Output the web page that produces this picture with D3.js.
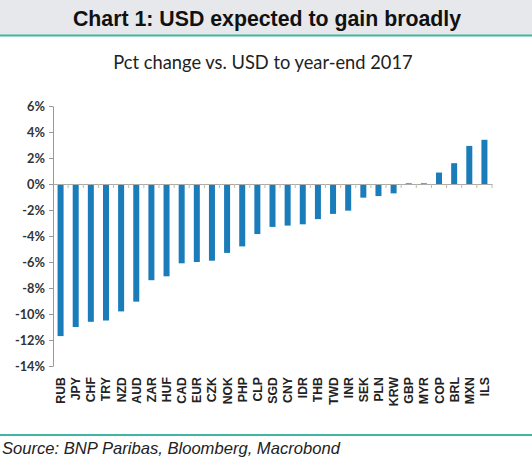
<!DOCTYPE html>
<html><head><meta charset="utf-8">
<script src="https://cdn.jsdelivr.net/npm/d3@7"></script>
<style>html,body{margin:0;padding:0;background:#fff;}svg{display:block;}</style>
</head><body>
<svg id="c" width="532" height="463"></svg>
<script>
const categories = ["RUB","JPY","CHF","TRY","NZD","AUD","ZAR","HUF","CAD","EUR","CZK","NOK","PHP","CLP","SGD","CNY","IDR","THB","TWD","INR","SEK","PLN","KRW","GBP","MYR","COP","BRL","MXN","ILS"];
const values = [-11.7,-11.0,-10.6,-10.5,-9.8,-9.05,-7.4,-7.1,-6.1,-6.0,-5.9,-5.3,-4.8,-3.85,-3.3,-3.2,-3.1,-2.7,-2.3,-2.05,-1.05,-0.93,-0.72,0.08,0.08,0.88,1.6,2.93,3.4];
const yTicks = [6,4,2,0,-2,-4,-6,-8,-10,-12,-14];
const titleText = "Chart 1: USD expected to gain broadly";
const subtitleText = "Pct change vs. USD to year-end 2017";
const sourceText = "Source: BNP Paribas, Bloomberg, Macrobond";

const svg = d3.select("#c");
// title band
svg.append("rect").attr("x",0).attr("y",0).attr("width",532).attr("height",35).attr("fill","#e7e8eb");
svg.append("rect").attr("x",0).attr("y",34.5).attr("width",532).attr("height",2).attr("fill","#3fb5a3");
svg.append("text").attr("x",267).attr("y",26).attr("text-anchor","middle")
  .attr("font-family","Liberation Sans, Arial, sans-serif").attr("font-weight","bold").attr("font-size",21.3)
  .attr("fill","#111").text(titleText);
svg.append("text").attr("x",263).attr("y",69).attr("text-anchor","middle")
  .attr("font-family","Lato, sans-serif").attr("font-size",18.3).attr("fill","#222").text(subtitleText);

const x = d3.scaleBand().domain(categories).range([53,492]).paddingInner(0.6).paddingOuter(0.3);
const xb = d3.scaleBand().domain(categories).range([53,492]);
const y = d3.scaleLinear().domain([-14,6]).range([366,106]);

// y axis
const ya = svg.append("g").attr("transform","translate(53,0)")
  .call(d3.axisLeft(y).tickValues(yTicks).tickSize(4).tickSizeOuter(0).tickFormat(d=>d+"%"));
ya.select(".domain").attr("stroke","#999");
ya.selectAll(".tick line").attr("stroke","#999");
ya.selectAll(".tick text").attr("font-family","Lato, sans-serif").attr("font-weight","bold")
  .attr("font-size",12.8).attr("fill","#333").attr("x",-8);

// bars
svg.append("g").selectAll("rect").data(values).join("rect")
  .attr("x",(d,i)=>x(categories[i])+ (x.bandwidth()-6)/2)
  .attr("width",6)
  .attr("y",d=>y(Math.max(0,d)))
  .attr("height",d=>Math.max(1,Math.abs(y(d)-y(0))))
  .attr("fill",(d)=>Math.abs(d)<0.2?"#8a9aa8":"#1a7cb8");

// zero axis with ticks at band boundaries
const xa = svg.append("g").attr("transform",`translate(0,${y(0)})`)
  .call(d3.axisBottom(xb).tickSize(0).tickFormat(""));
xa.select(".domain").attr("stroke","#aaa");
svg.append("g").selectAll("line").data(categories).join("line")
  .attr("x1",d=>xb(d)+xb.bandwidth()).attr("x2",d=>xb(d)+xb.bandwidth())
  .attr("y1",y(0)).attr("y2",y(0)+4).attr("stroke","#c9b9a0");

// category labels
svg.append("g").selectAll("text").data(categories).join("text")
  .attr("transform",d=>`translate(${xb(d)+xb.bandwidth()/2+4.5},377) rotate(-90)`)
  .attr("text-anchor","end")
  .attr("font-family","Liberation Sans, Arial, sans-serif").attr("font-weight","bold").attr("font-size",12.3)
  .attr("fill","#222").text(d=>d);

// bottom line and source
svg.append("rect").attr("x",0).attr("y",434).attr("width",532).attr("height",2).attr("fill","#3fb5a3");
svg.append("text").attr("x",2).attr("y",454)
  .attr("font-family","Liberation Sans, Arial, sans-serif").attr("font-style","italic").attr("font-size",16.6)
  .attr("fill","#222").text(sourceText);
</script>
</body></html>
